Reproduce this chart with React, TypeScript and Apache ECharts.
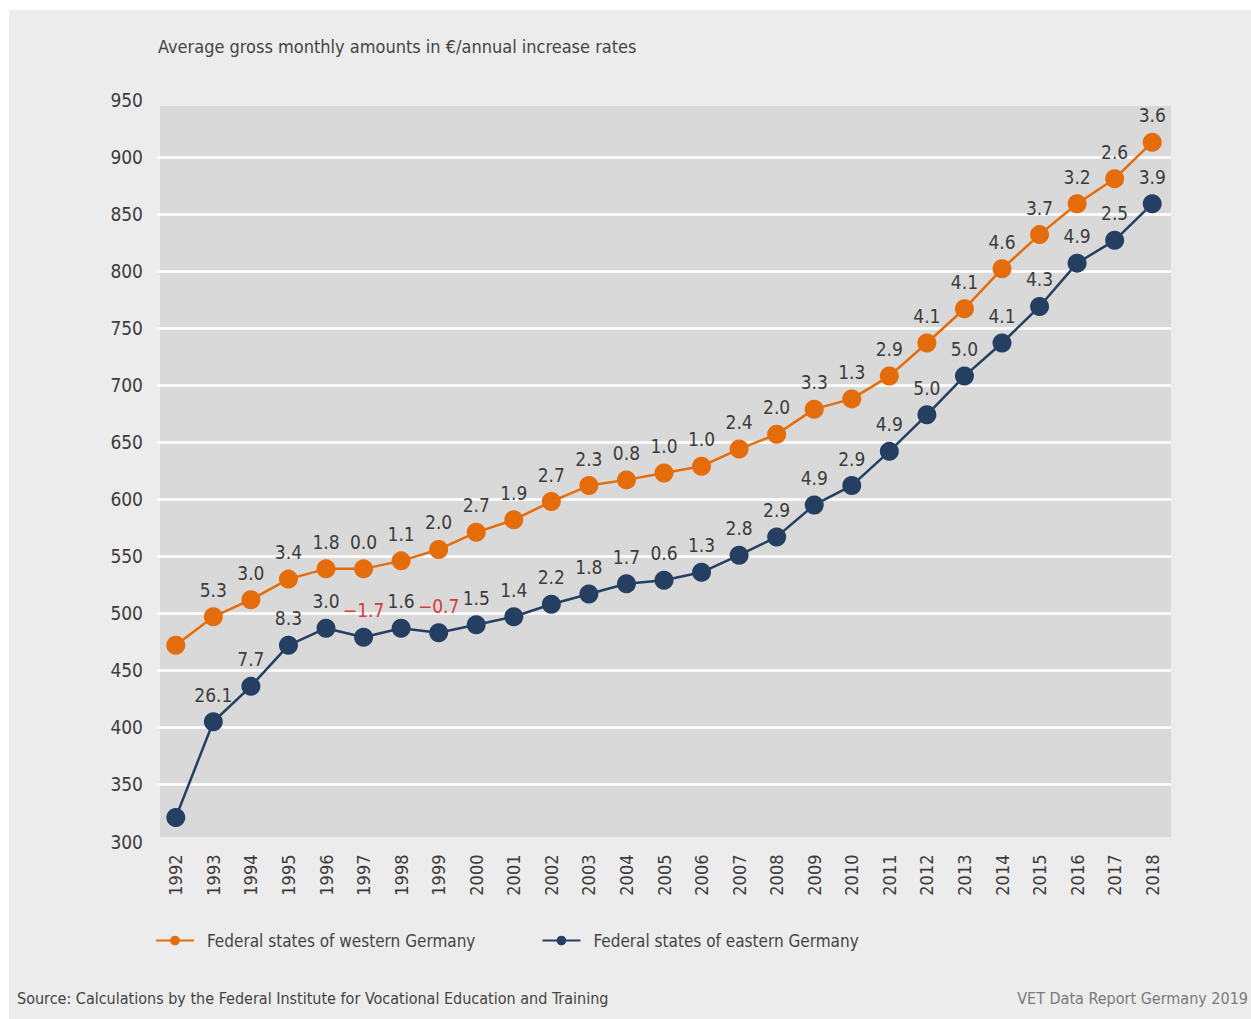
import React, { useEffect, useRef } from "react";
import * as echarts from "echarts";

// Training allowances: average gross monthly amounts in € and annual increase rates (%)
const years = [
  "1992", "1993", "1994", "1995", "1996", "1997", "1998", "1999", "2000",
  "2001", "2002", "2003", "2004", "2005", "2006", "2007", "2008", "2009",
  "2010", "2011", "2012", "2013", "2014", "2015", "2016", "2017", "2018",
];

const westAmounts = [
  472, 497, 512, 530, 539, 539, 546, 556, 571, 582, 598, 612, 617, 623,
  629, 644, 657, 679, 688, 708, 737, 767, 802, 832, 859, 881, 913,
];
const westRates: (number | null)[] = [
  null, 5.3, 3.0, 3.4, 1.8, 0.0, 1.1, 2.0, 2.7, 1.9, 2.7, 2.3, 0.8, 1.0,
  1.0, 2.4, 2.0, 3.3, 1.3, 2.9, 4.1, 4.1, 4.6, 3.7, 3.2, 2.6, 3.6,
];

const eastAmounts = [
  321, 405, 436, 472, 487, 479, 487, 483, 490, 497, 508, 517, 526, 529,
  536, 551, 567, 595, 612, 642, 674, 708, 737, 769, 807, 827, 859,
];
const eastRates: (number | null)[] = [
  null, 26.1, 7.7, 8.3, 3.0, -1.7, 1.6, -0.7, 1.5, 1.4, 2.2, 1.8, 1.7, 0.6,
  1.3, 2.8, 2.9, 4.9, 2.9, 4.9, 5.0, 5.0, 4.1, 4.3, 4.9, 2.5, 3.9,
];

const seriesNames = ["Federal states of western Germany", "Federal states of eastern Germany"];
const titleText = "Average gross monthly amounts in €/annual increase rates";
const sourceText = "Source: Calculations by the Federal Institute for Vocational Education and Training";
const reportText = "VET Data Report Germany 2019";

const FONT = '"DejaVu Sans Condensed", "Liberation Sans Narrow", "Roboto", sans-serif';
const ORANGE = "#e46c0a";
const NAVY = "#243f61";
const TEXT = "#3c3c3c";
const NEG = "#d9393b";

function rateText(r: number | null): string {
  if (r === null) return "";
  const s = Math.abs(r).toFixed(1);
  return r < 0 ? "\u2212" + s : s;
}

function buildData(amounts: number[], rates: (number | null)[]) {
  return amounts.map((v, i) => ({
    value: v,
    label: {
      formatter: rateText(rates[i]),
      color: rates[i] !== null && (rates[i] as number) < 0 ? NEG : TEXT,
    },
  }));
}

export default function App() {
  const ref = useRef<HTMLDivElement>(null);

  useEffect(() => {
    document.body.style.margin = "0";
    const chart = echarts.init(ref.current!, null, { renderer: "svg" });

    const lineSeries = (name: string, color: string, amounts: number[], rates: (number | null)[]) => ({
      name,
      type: "line",
      data: buildData(amounts, rates),
      symbol: "circle",
      symbolSize: 19,
      itemStyle: { color },
      lineStyle: { color, width: 2.5 },
      label: {
        show: true,
        position: "top",
        distance: 8,
        fontFamily: FONT,
        fontSize: 19,
      },
      z: 3,
    });

    chart.setOption({
      animation: false,
      backgroundColor: "#ffffff",
      textStyle: { fontFamily: FONT },
      graphic: [
        {
          type: "rect",
          z: -20,
          silent: true,
          shape: { x: 9, y: 10, width: 1242, height: 1009 },
          style: { fill: "#ececec" },
        },
        {
          type: "rect",
          z: -10,
          silent: true,
          shape: { x: 160, y: 106, width: 1011, height: 731 },
          style: { fill: "#d9d9d9" },
        },
        {
          type: "text",
          x: 158,
          y: 46,
          style: {
            text: titleText,
            fontFamily: FONT,
            fontSize: 18,
            fill: "#444444",
            verticalAlign: "middle",
          },
        },
        {
          type: "text",
          x: 17,
          y: 998,
          style: {
            text: sourceText,
            fontFamily: FONT,
            fontSize: 16,
            fill: "#444444",
            verticalAlign: "middle",
          },
        },
        {
          type: "text",
          x: 1248,
          y: 998,
          style: {
            text: reportText,
            fontFamily: FONT,
            fontSize: 16,
            fill: "#7a7a7a",
            align: "right",
            verticalAlign: "middle",
          },
        },
      ],
      legend: {
        left: 150,
        top: 927,
        itemWidth: 38,
        itemHeight: 12,
        itemGap: 66,
        textStyle: {
          fontFamily: FONT,
          fontSize: 17,
          color: "#444444",
          padding: [0, 0, 0, 8],
        },
        data: seriesNames,
      },
      grid: { left: 157, right: 80, top: 100, bottom: 177.5 },
      xAxis: {
        type: "category",
        data: years,
        boundaryGap: true,
        axisLine: { show: false },
        axisTick: { show: false },
        axisLabel: {
          rotate: 90,
          margin: 13,
          fontFamily: FONT,
          fontSize: 18,
          color: TEXT,
        },
      },
      yAxis: {
        type: "value",
        min: 300,
        max: 950,
        interval: 50,
        axisLine: { show: false },
        axisTick: { show: false },
        axisLabel: {
          margin: 14,
          fontFamily: FONT,
          fontSize: 19,
          color: TEXT,
        },
        splitLine: {
          show: true,
          showMinLine: false,
          showMaxLine: false,
          lineStyle: { color: "#ffffff", width: 2.5 },
        },
      },
      series: [
        lineSeries(seriesNames[0], ORANGE, westAmounts, westRates),
        lineSeries(seriesNames[1], NAVY, eastAmounts, eastRates),
      ],
    });

    return () => chart.dispose();
  }, []);

  return <div ref={ref} style={{ width: 1251, height: 1019 }} />;
}
